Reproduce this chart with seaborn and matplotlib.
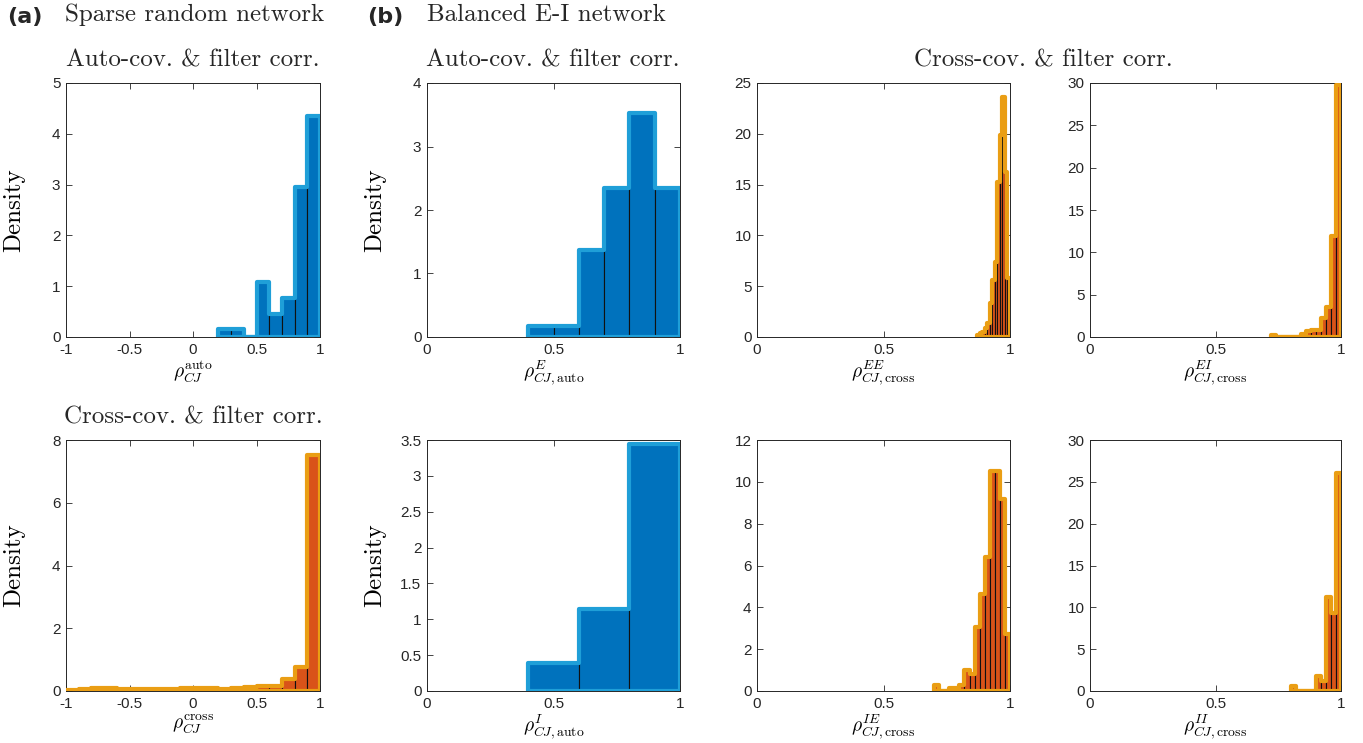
import numpy as np
import pandas as pd
import matplotlib
matplotlib.use("Agg")
import matplotlib.pyplot as plt
from matplotlib.ticker import FuncFormatter
import seaborn as sns

# ---------------- data (densities) ----------------
# (a) sparse random network
a_auto_start, a_auto_width = 0.2, 0.1
a_auto_density = [0.15, 0.15, 0.0, 1.08, 0.46, 0.77, 2.96, 4.36]

a_cross_start, a_cross_width = -1.0, 0.1
a_cross_density = [0.03, 0.05, 0.10, 0.08, 0.07, 0.07, 0.06, 0.07, 0.06, 0.10,
                   0.10, 0.10, 0.07, 0.09, 0.13, 0.16, 0.16, 0.39, 0.76, 7.53]

# (b) balanced E-I network
e_auto_start, e_auto_width = 0.4, 0.1
e_auto_density = [0.18, 0.18, 1.37, 2.35, 3.53, 2.35]

i_auto_start, i_auto_width = 0.4, 0.2
i_auto_density = [0.39, 1.15, 3.45]

ee_start, ee_width = 0.87, 0.01
ee_density = [0.2, 0.35, 0.5, 0.9, 1.4, 3.3, 5.6, 7.4, 15.3, 19.9, 23.6, 16.2, 5.8]

ei_start, ei_width = 0.72, 0.02
ei_density = [0.2, 0, 0, 0, 0, 0, 0.3, 0.7, 0.87, 0.87, 2.2, 3.6, 11.9, 29.8]

ie_start, ie_width = 0.70, 0.02
ie_density = [0.27, 0, 0, 0.14, 0.14, 0.30, 0.99, 0.83, 3.06, 4.66, 6.41,
              10.5, 10.5, 9.2, 2.74]

ii_start, ii_width = 0.80, 0.02
ii_density = [0.6, 0, 0, 0, 0, 1.8, 1.2, 11.2, 9.3, 26.0]

# ---------------- style ----------------
sns.set_style("ticks")
plt.rcParams["font.family"] = ["Liberation Sans", "DejaVu Sans"]
plt.rcParams["mathtext.fontset"] = "cm"
plt.rcParams["axes.unicode_minus"] = False

BLUE, BLUE_EDGE = "#0072BD", "#1F9FD8"
ORANGE, ORANGE_EDGE = "#D95319", "#EA9E14"
AXC = "#262626"
SERIF = "cmr10"
BIG = 18

W, H = 1363, 743
fig = plt.figure(figsize=(W / 100, H / 100), dpi=100)


def add_axes(left_px, top_px, right_px, bottom_px):
    return fig.add_axes([left_px / W, 1 - bottom_px / H,
                         (right_px - left_px) / W, (bottom_px - top_px) / H])


def draw_hist(ax, start, width, dens, bar_color, edge_color):
    dens = np.asarray(dens, dtype=float)
    edges = [float(start + width * k) for k in range(len(dens) + 1)]
    centers = [e + width / 2 for e in edges[:-1]]
    df = pd.DataFrame({"value": centers, "density": dens})
    sns.histplot(data=df, x="value", weights="density", bins=edges, stat="count",
                 element="bars", fill=True, color=bar_color, alpha=1,
                 edgecolor="#111111", linewidth=0.8, ax=ax, zorder=2)
    sns.histplot(data=df, x="value", weights="density", bins=edges, stat="count",
                 element="step", fill=True, color=edge_color, facecolor="none",
                 alpha=1, edgecolor=edge_color, linewidth=3.0, ax=ax, zorder=3)


def style_axes(ax, xlim, xticks, ylim, yticks, xlabel, ylabel=None):
    ax.set_xlim(*xlim)
    ax.set_ylim(*ylim)
    ax.set_xticks(list(xticks))
    ax.set_yticks(list(yticks))
    fmt = FuncFormatter(lambda v, p: f"{v:g}")
    ax.xaxis.set_major_formatter(fmt)
    ax.yaxis.set_major_formatter(fmt)
    ax.tick_params(direction="in", top=True, right=True, length=4, width=0.6,
                   colors=AXC, labelsize=11, pad=4)
    for s in ax.spines.values():
        s.set_visible(True)
        s.set_color(AXC)
        s.set_linewidth(0.7)
    ax.set_xlabel(xlabel, fontsize=14, color="black", va="top")
    ax.xaxis.set_label_coords(0.5, -0.085)
    if ylabel:
        ax.set_ylabel(ylabel, fontsize=BIG, fontfamily=SERIF, color="black")
        ax.yaxis.set_label_coords(-0.16, 0.5)
    else:
        ax.set_ylabel("")


cols = [(66, 320), (427, 680), (757, 1010), (1090, 1341)]
top_row = (83, 337)
bot_row = (440, 691)

# (a) top
ax = add_axes(cols[0][0], top_row[0], cols[0][1], top_row[1])
draw_hist(ax, a_auto_start, a_auto_width, a_auto_density, BLUE, BLUE_EDGE)
style_axes(ax, (-1, 1), [-1, -0.5, 0, 0.5, 1], (0, 5), range(0, 6),
           r"$\rho_{CJ}^{\mathrm{auto}}$", "Density")

# (a) bottom
ax = add_axes(cols[0][0], bot_row[0], cols[0][1], bot_row[1])
draw_hist(ax, a_cross_start, a_cross_width, a_cross_density, ORANGE, ORANGE_EDGE)
style_axes(ax, (-1, 1), [-1, -0.5, 0, 0.5, 1], (0, 8), range(0, 9, 2),
           r"$\rho_{CJ}^{\mathrm{cross}}$", "Density")

# (b) E auto
ax = add_axes(cols[1][0], top_row[0], cols[1][1], top_row[1])
draw_hist(ax, e_auto_start, e_auto_width, e_auto_density, BLUE, BLUE_EDGE)
style_axes(ax, (0, 1), [0, 0.5, 1], (0, 4), range(0, 5),
           r"$\rho_{CJ,\mathrm{auto}}^{E}$", "Density")

# (b) I auto
ax = add_axes(cols[1][0], bot_row[0], cols[1][1], bot_row[1])
draw_hist(ax, i_auto_start, i_auto_width, i_auto_density, BLUE, BLUE_EDGE)
style_axes(ax, (0, 1), [0, 0.5, 1], (0, 3.5), np.arange(0, 3.51, 0.5),
           r"$\rho_{CJ,\mathrm{auto}}^{I}$", "Density")

# (b) EE cross
ax = add_axes(cols[2][0], top_row[0], cols[2][1], top_row[1])
draw_hist(ax, ee_start, ee_width, ee_density, ORANGE, ORANGE_EDGE)
style_axes(ax, (0, 1), [0, 0.5, 1], (0, 25), range(0, 26, 5),
           r"$\rho_{CJ,\mathrm{cross}}^{EE}$")

# (b) EI cross
ax = add_axes(cols[3][0], top_row[0], cols[3][1], top_row[1])
draw_hist(ax, ei_start, ei_width, ei_density, ORANGE, ORANGE_EDGE)
style_axes(ax, (0, 1), [0, 0.5, 1], (0, 30), range(0, 31, 5),
           r"$\rho_{CJ,\mathrm{cross}}^{EI}$")

# (b) IE cross
ax = add_axes(cols[2][0], bot_row[0], cols[2][1], bot_row[1])
draw_hist(ax, ie_start, ie_width, ie_density, ORANGE, ORANGE_EDGE)
style_axes(ax, (0, 1), [0, 0.5, 1], (0, 12), range(0, 13, 2),
           r"$\rho_{CJ,\mathrm{cross}}^{IE}$")

# (b) II cross
ax = add_axes(cols[3][0], bot_row[0], cols[3][1], bot_row[1])
draw_hist(ax, ii_start, ii_width, ii_density, ORANGE, ORANGE_EDGE)
style_axes(ax, (0, 1), [0, 0.5, 1], (0, 30), range(0, 31, 5),
           r"$\rho_{CJ,\mathrm{cross}}^{II}$")

# ---------------- header texts ----------------
def ftext(x_px, y_px, s, **kw):
    fig.text(x_px / W, 1 - y_px / H, s, **kw)

ftext(7, 17, "(a)", fontsize=16, fontweight="bold", family="DejaVu Sans", va="center", ha="left")
ftext(65, 15, "Sparse random network", fontsize=BIG, family=SERIF, va="center", ha="left")
ftext(367, 17, "(b)", fontsize=16, fontweight="bold", family="DejaVu Sans", va="center", ha="left")
ftext(427, 15, "Balanced E-I network", fontsize=BIG, family=SERIF, va="center", ha="left")

ftext(193, 60, "Auto-cov. & filter corr.", fontsize=BIG, family=SERIF, va="center", ha="center")
ftext(553, 60, "Auto-cov. & filter corr.", fontsize=BIG, family=SERIF, va="center", ha="center")
ftext(1043, 60, "Cross-cov. & filter corr.", fontsize=BIG, family=SERIF, va="center", ha="center")
ftext(193, 417, "Cross-cov. & filter corr.", fontsize=BIG, family=SERIF, va="center", ha="center")

fig.savefig("out.png", dpi=100)
